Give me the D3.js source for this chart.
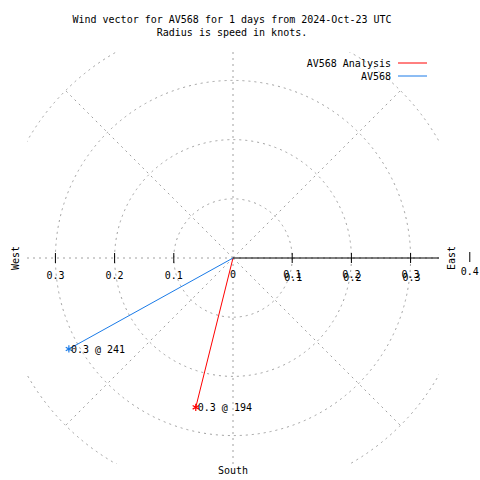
<!DOCTYPE html>
<html><head><meta charset="utf-8">
<script src="https://cdn.jsdelivr.net/npm/d3@7"></script>
<style>body{margin:0;background:#fff}svg{display:block}text{font-family:"DejaVu Sans Mono",monospace;font-size:10px;fill:#000}</style>
</head><body><svg id="c" width="480" height="480"></svg>
<script>
const titleLines = ["Wind vector for AV568 for 1 days from 2024-Oct-23 UTC", "Radius is speed in knots."];
const seriesNames = ["AV568 Analysis", "AV568"];
const seriesColors = ["#ff0000", "#1a7be8"];
const speeds = [0.26, 0.317];
const directions = [194, 241];
const pointLabels = ["0.3 @ 194", "0.3 @ 241"];
const rings = [0.1, 0.2, 0.3, 0.4];
const axisTicks = [0.1, 0.2, 0.3];
const spokes = [0, 45, 90, 135, 180, 225, 270, 315];
const spokeLength = 0.4;

const svg = d3.select("#c");
const lim = 0.348;
const x = d3.scaleLinear().domain([-lim, lim]).range([27, 439]);
const y = d3.scaleLinear().domain([-lim, lim]).range([464, 52]);
const cx = x(0), cy = y(0);

svg.append("defs").append("clipPath").attr("id", "plot")
  .append("rect").attr("x", x(-lim)).attr("y", y(lim)).attr("width", x(lim) - x(-lim)).attr("height", y(-lim) - y(lim));

const grid = svg.append("g").attr("clip-path", "url(#plot)")
  .attr("fill", "none").attr("stroke", "#a0a0a0").attr("stroke-width", 1).attr("stroke-dasharray", "2,4");
grid.selectAll("circle").data(rings).join("circle")
  .attr("cx", cx).attr("cy", cy).attr("r", d => x(d) - cx);
grid.selectAll("line").data(spokes).join("line")
  .attr("x1", cx).attr("y1", cy)
  .attr("x2", d => x(spokeLength * Math.sin(d * Math.PI / 180)))
  .attr("y2", d => y(spokeLength * Math.cos(d * Math.PI / 180)));

// axis (east half solid)
svg.append("line").attr("x1", cx).attr("y1", cy).attr("x2", x(lim)).attr("y2", cy)
  .attr("stroke", "#000").attr("stroke-width", 1);
const allTicks = axisTicks.map(d => -d).concat(axisTicks);
svg.selectAll("line.tick").data(allTicks).join("line").attr("class", "tick")
  .attr("x1", d => x(d)).attr("x2", d => x(d)).attr("y1", cy - 5).attr("y2", cy + 5)
  .attr("stroke", "#000");
svg.selectAll("text.tl").data(axisTicks.map(d => -d)).join("text").attr("class", "tl")
  .attr("x", d => x(d)).attr("y", cy + 21).attr("text-anchor", "middle").text(d => Math.abs(d).toFixed(1));
[0, 3].forEach(off => {
  svg.selectAll("text.tr" + off).data(axisTicks).join("text").attr("class", "tr" + off)
    .attr("x", d => x(d) + off / 3).attr("y", cy + 20 + off).attr("text-anchor", "middle").text(d => d.toFixed(1));
});
svg.append("text").attr("x", cx).attr("y", cy + 20).attr("text-anchor", "middle").text("0");
svg.append("line").attr("x1", x(0.4)).attr("x2", x(0.4)).attr("y1", cy - 6).attr("y2", cy + 4).attr("stroke", "#000");
svg.append("text").attr("x", x(0.4)).attr("y", cy + 17).attr("text-anchor", "middle").text("0.4");

// compass labels
svg.append("text").attr("transform", `translate(19,${cy}) rotate(-90)`).attr("text-anchor", "middle").text("West");
svg.append("text").attr("transform", `translate(455,${cy}) rotate(-90)`).attr("text-anchor", "middle").text("East");
svg.append("text").attr("x", cx).attr("y", 474).attr("text-anchor", "middle").text("South");

// title
svg.selectAll("text.title").data(titleLines).join("text").attr("class", "title")
  .attr("x", 232).attr("y", (d, i) => 23 + i * 13).attr("text-anchor", "middle").text(d => d);

// vectors
const pts = speeds.map((s, i) => ({
  s, dir: directions[i], label: pointLabels[i], color: seriesColors[i],
  px: x(s * Math.sin(directions[i] * Math.PI / 180)),
  py: y(s * Math.cos(directions[i] * Math.PI / 180))
}));
svg.selectAll("line.vec").data(pts).join("line").attr("class", "vec")
  .attr("x1", cx).attr("y1", cy).attr("x2", d => d.px).attr("y2", d => d.py)
  .attr("stroke", d => d.color).attr("stroke-width", 1);
svg.selectAll("path.mk").data(pts).join("path").attr("class", "mk")
  .attr("transform", d => `translate(${d.px},${d.py})`)
  .attr("d", d3.symbol(d3.symbolAsterisk, 36)).attr("fill", "none")
  .attr("stroke", d => d.color).attr("stroke-width", 1.2);
svg.selectAll("text.pl").data(pts).join("text").attr("class", "pl")
  .attr("x", d => d.px + 2).attr("y", d => d.py + 4).text(d => d.label);

// legend
const lg = svg.selectAll("g.lg").data(seriesNames).join("g").attr("class", "lg")
  .attr("transform", (d, i) => `translate(0,${63 + i * 13})`);
lg.append("text").attr("x", 391).attr("y", 4).attr("text-anchor", "end").text(d => d);
lg.append("line").attr("x1", 398).attr("x2", 427).attr("y1", 0).attr("y2", 0)
  .attr("stroke", (d, i) => seriesColors[i]).attr("stroke-width", 1);
</script></body></html>
